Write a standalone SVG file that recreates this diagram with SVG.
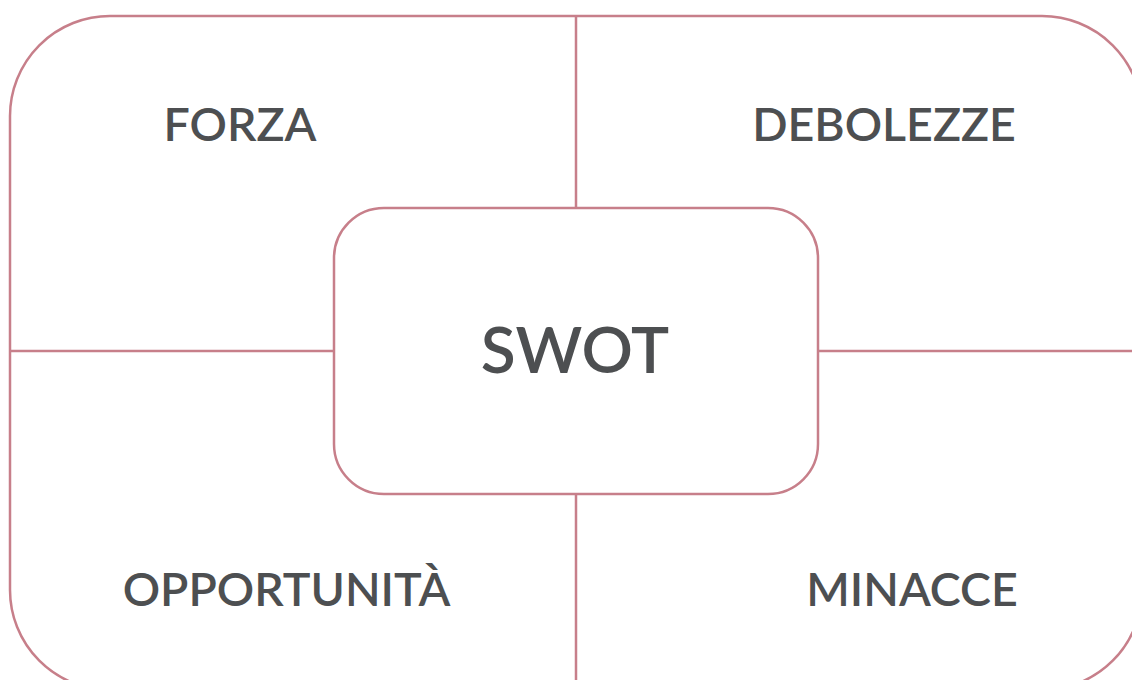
<svg xmlns="http://www.w3.org/2000/svg" width="1132" height="680" viewBox="0 0 1132 680">
<style>
.shape{fill:#ffffff;stroke:#c77f8a;stroke-width:2.5}
.ln{fill:none;stroke:#c77f8a;stroke-width:2.5}
.lbl{font-family:Lato,"Open Sans",sans-serif;font-size:46.5px;font-weight:600;fill:#4d4f51;text-anchor:middle}
.big{font-family:Lato,"Open Sans",sans-serif;font-size:64px;font-weight:600;fill:#4d4f51;text-anchor:middle}
</style>
<rect width="1132" height="680" fill="#ffffff"/>
<g id="frame"><rect class="shape" x="10" y="16" width="1132" height="674" rx="100" ry="100"/></g>
<g id="connectors">
<line class="ln" x1="576" y1="16" x2="576" y2="208"/>
<line class="ln" x1="576" y1="494" x2="576" y2="690"/>
<line class="ln" x1="10" y1="351" x2="334" y2="351"/>
<line class="ln" x1="818" y1="351" x2="1142" y2="351"/>
</g>
<g id="forza"><text class="lbl" x="240" y="141">FORZA</text></g>
<g id="debolezze"><text class="lbl" x="884" y="141">DEBOLEZZE</text></g>
<g id="opportunita"><text class="lbl" x="286.5" y="606">OPPORTUNITÀ</text></g>
<g id="minacce"><text class="lbl" x="912" y="606">MINACCE</text></g>
<g id="swot"><rect class="shape" x="334" y="208" width="484" height="286" rx="50" ry="50"/><text class="big" x="575" y="373">SWOT</text></g>
</svg>
